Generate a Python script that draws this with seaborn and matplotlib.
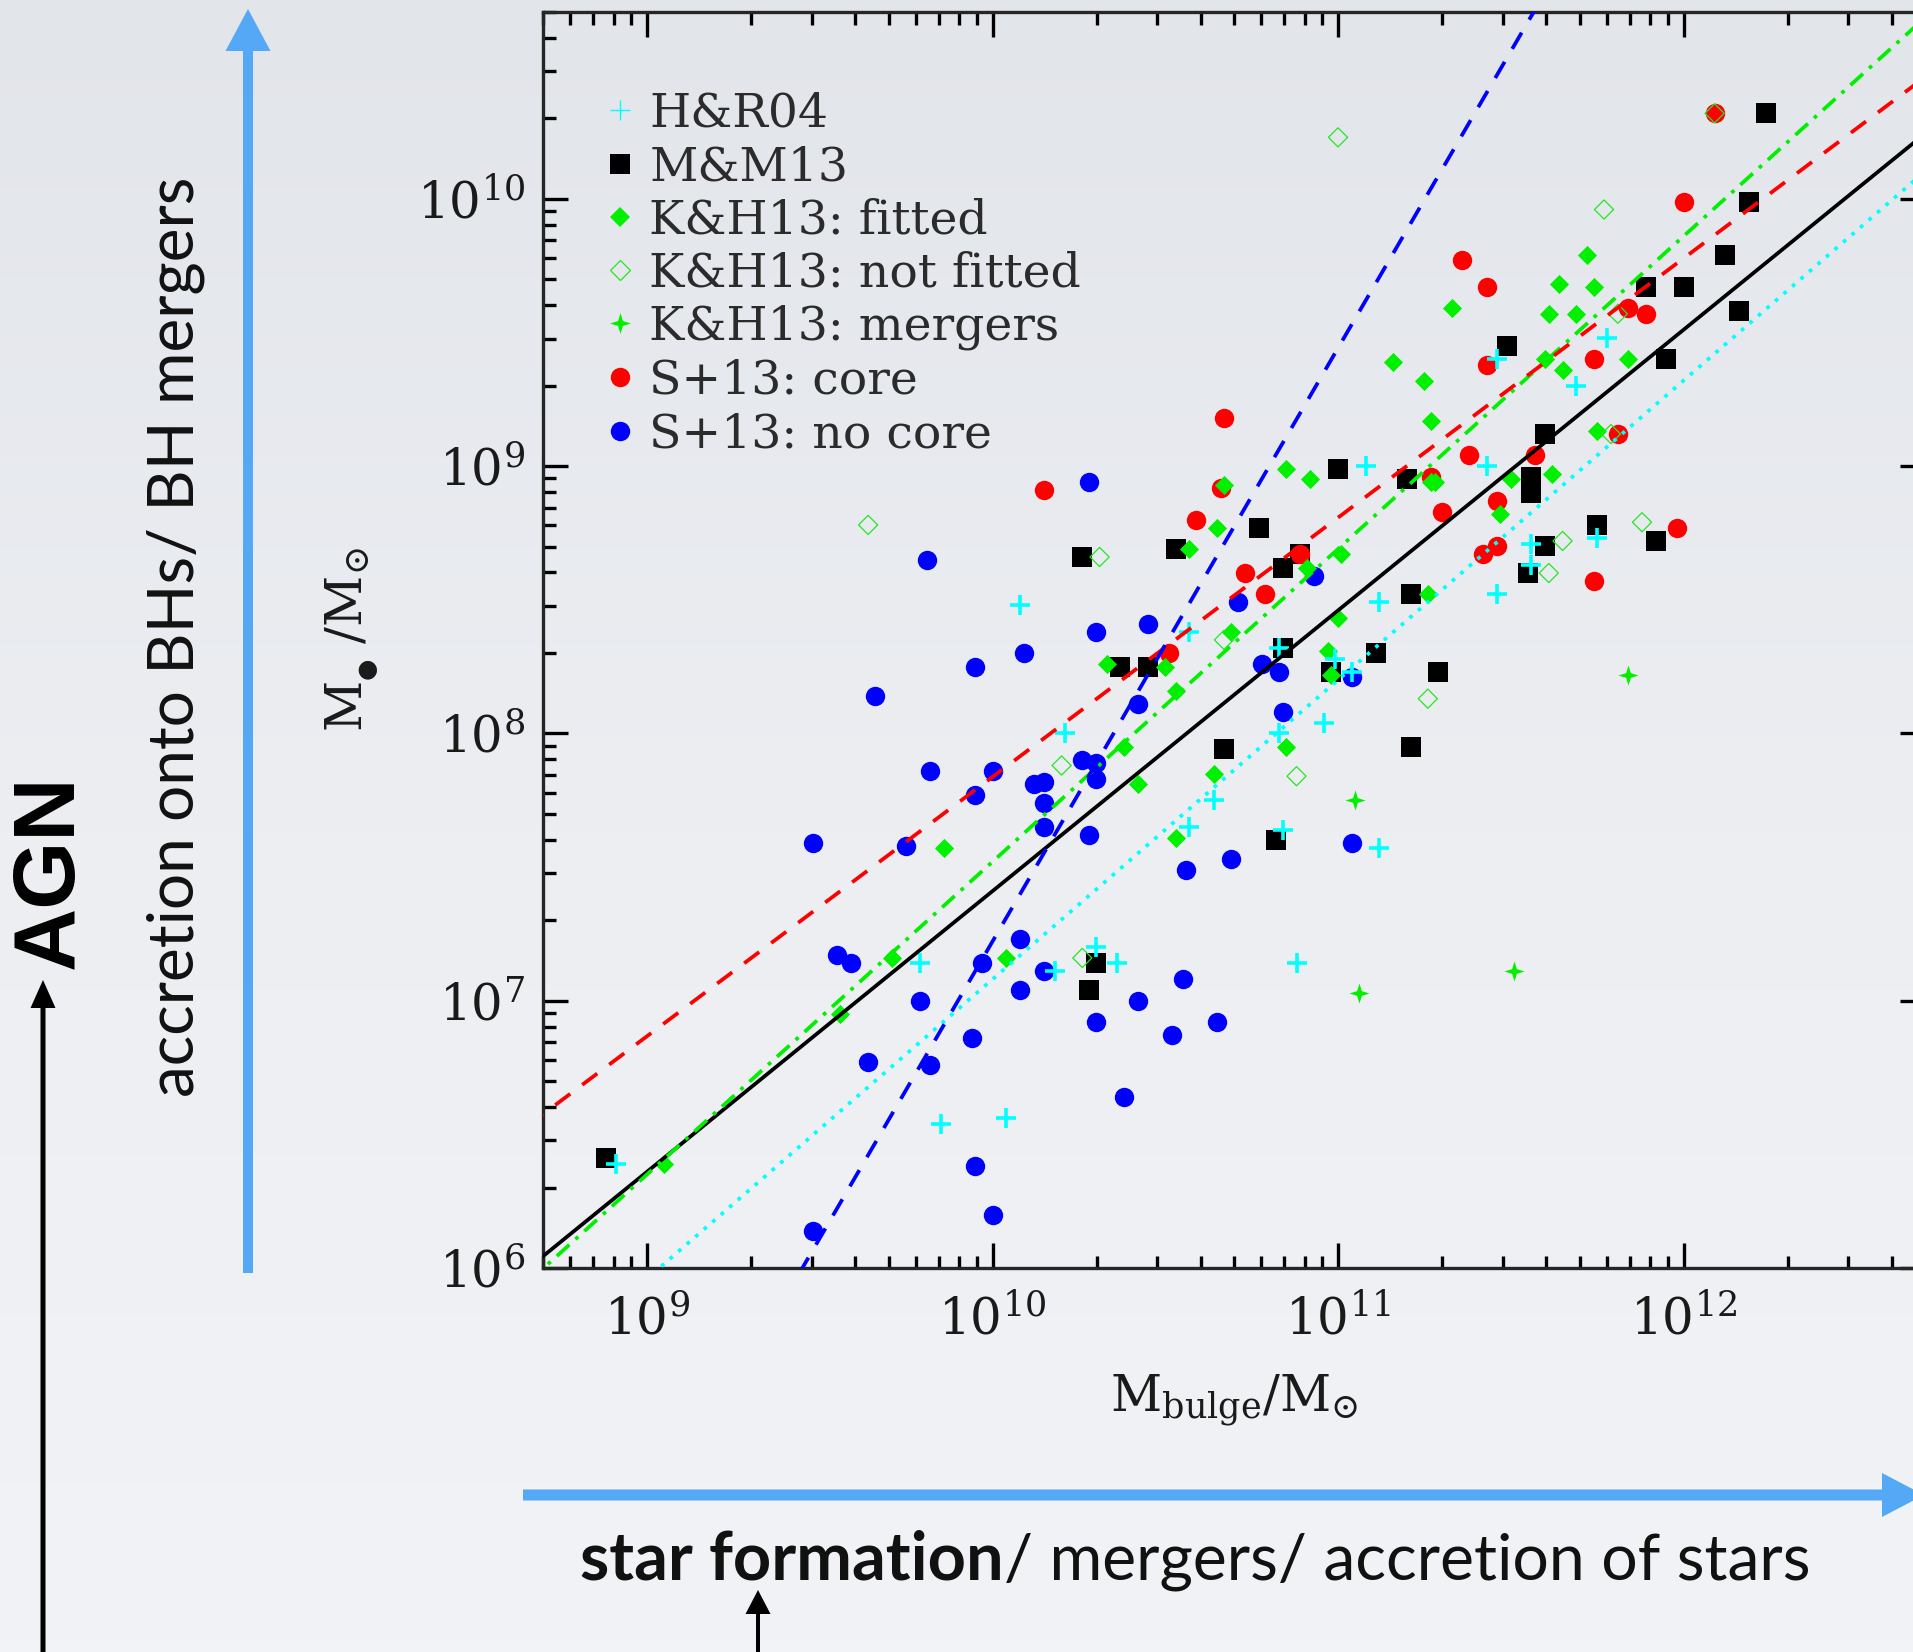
import numpy as np
import pandas as pd
import matplotlib
matplotlib.use("Agg")
import matplotlib.pyplot as plt
import seaborn as sns
from matplotlib.lines import Line2D
from matplotlib.patches import FancyArrow
from matplotlib.path import Path
from matplotlib.colors import LinearSegmentedColormap
from matplotlib.ticker import LogLocator, NullFormatter

# ---------------------------------------------------------------------------
# Data: log10 of bulge mass and black-hole mass (solar masses)
# ---------------------------------------------------------------------------
hr04_log_mbulge = [8.91, 9.79, 9.85, 10.04, 10.08, 10.18, 10.21, 10.30, 10.36, 10.57,
                   10.57, 10.64, 10.83, 10.83, 10.84, 10.88, 10.96, 10.99, 11.04, 11.08,
                   11.12, 11.12, 11.43, 11.46, 11.46, 11.56, 11.56, 11.69, 11.75, 11.78]
hr04_log_mbh = [6.39, 7.14, 6.54, 6.56, 8.48, 7.11, 8.00, 7.20, 7.14, 8.38,
                7.65, 7.75, 8.32, 8.00, 7.64, 7.14, 8.04, 8.28, 8.23, 9.00,
                8.49, 7.57, 9.00, 9.40, 8.52, 8.71, 8.63, 9.30, 8.73, 9.48]

mm13_log_mbulge = [8.88, 10.26, 10.28, 10.30, 10.37, 10.45, 10.53, 10.67, 10.77, 10.82,
                   10.84, 10.89, 10.84, 10.98, 11.00, 11.11, 11.20, 11.21, 11.21, 11.29,
                   11.49, 11.55, 11.56, 11.56, 11.60, 11.60, 11.75, 11.89, 11.92, 11.95,
                   12.00, 12.12, 12.16, 12.19, 12.24]
mm13_log_mbh = [6.41, 8.66, 7.04, 7.14, 8.25, 8.25, 8.69, 7.94, 8.77, 7.60,
                8.62, 8.67, 8.32, 8.23, 8.99, 8.30, 8.95, 8.52, 7.95, 8.23,
                9.45, 8.60, 8.96, 8.90, 9.12, 8.70, 8.78, 9.67, 8.72, 9.40,
                9.67, 9.79, 9.58, 9.99, 10.32]

kh13_fit_log_mbulge = [9.05, 9.56, 9.71, 9.86, 10.04, 10.33, 10.38, 10.42, 10.50, 10.53,
                       10.53, 10.57, 10.64, 10.65, 10.67, 10.69, 10.85, 10.85, 10.91, 10.92,
                       10.97, 10.98, 11.00, 11.01, 11.16, 11.25, 11.26, 11.27, 11.28, 11.27,
                       11.33, 11.47, 11.50, 11.60, 11.61, 11.62, 11.64, 11.65, 11.69, 11.72,
                       11.74, 11.75, 11.84]
kh13_fit_log_mbh = [6.39, 6.95, 7.16, 7.57, 7.16, 8.26, 7.95, 7.81, 8.25, 8.16,
                    7.61, 8.69, 7.85, 8.77, 8.93, 8.38, 8.99, 7.95, 8.62, 8.95,
                    8.31, 8.22, 8.43, 8.67, 9.39, 9.32, 8.52, 8.94, 8.94, 9.17,
                    9.59, 8.82, 8.95, 9.40, 9.57, 8.97, 9.68, 9.36, 9.57, 9.79,
                    9.67, 9.13, 9.40]

kh13_nofit_log_mbulge = [9.64, 10.20, 10.26, 10.31, 10.67, 10.88, 11.00, 11.26, 11.61, 11.65,
                         11.77, 11.79, 11.81, 11.88, 12.09]
kh13_nofit_log_mbh = [8.78, 7.88, 7.16, 8.66, 8.35, 7.84, 10.23, 8.13, 8.60, 8.72,
                      9.96, 9.12, 9.57, 8.79, 10.32]

kh13_merger_log_mbulge = [11.05, 11.06, 11.51, 11.84]
kh13_merger_log_mbh = [7.75, 7.03, 7.11, 8.22]

s13_core_log_mbulge = [10.15, 10.51, 10.59, 10.66, 10.67, 10.73, 10.79, 10.89, 11.27, 11.30,
                       11.36, 11.38, 11.42, 11.43, 11.43, 11.46, 11.46, 11.57, 11.74, 11.74,
                       11.81, 11.84, 11.89, 11.98, 12.00, 12.09]
s13_core_log_mbh = [8.91, 8.30, 8.80, 8.92, 9.18, 8.60, 8.52, 8.67, 8.96, 8.83,
                    9.77, 9.04, 8.67, 9.67, 9.38, 8.87, 8.70, 9.04, 9.40, 8.57,
                    9.12, 9.59, 9.57, 8.77, 9.99, 10.32]

s13_sersic_log_mbulge = [9.48, 9.48, 9.55, 9.59, 9.64, 9.66, 9.75, 9.79, 9.81, 9.82,
                         9.82, 9.94, 9.95, 9.95, 9.95, 9.97, 10.00, 10.00, 10.08, 10.08,
                         10.09, 10.12, 10.15, 10.15, 10.15, 10.15, 10.26, 10.28, 10.28, 10.30,
                         10.30, 10.30, 10.30, 10.38, 10.42, 10.42, 10.45, 10.52, 10.55, 10.56,
                         10.65, 10.69, 10.71, 10.78, 10.83, 10.84, 10.93, 11.04, 11.04]
s13_sersic_log_mbh = [7.59, 6.14, 7.17, 7.14, 6.77, 8.14, 7.58, 7.00, 8.65, 7.86,
                      6.76, 6.86, 8.25, 6.38, 7.77, 7.14, 7.86, 6.20, 7.23, 7.04,
                      8.30, 7.81, 7.82, 7.74, 7.65, 7.11, 7.90, 8.94, 7.62, 8.38,
                      6.92, 7.89, 7.83, 6.64, 8.11, 7.00, 8.41, 6.87, 7.08, 7.49,
                      6.92, 7.53, 8.49, 8.26, 8.23, 8.08, 8.59, 8.21, 7.59]

# Scaling relations: log M_BH = norm + slope * (log M_bulge - pivot)
relation_names = ["H&R04", "M&M13", "K&H13", "S+13: core", "S+13: no core"]
relation_norm = [8.20, 8.46, 8.69, 9.27, 7.89]
relation_slope = [1.12, 1.05, 1.17, 0.97, 2.22]
relation_pivot = [11.0, 11.0, 11.0, np.log10(3e11), np.log10(2e10)]

legend_labels = ["H&R04", "M&M13", "K&H13: fitted", "K&H13: not fitted",
                 "K&H13: mergers", "S+13: core", "S+13: no core"]

# ---------------------------------------------------------------------------
# Style
# ---------------------------------------------------------------------------
sns.set_style("ticks")
plt.rcParams["font.family"] = ["DejaVu Serif"]
plt.rcParams["mathtext.fontset"] = "dejavuserif"

W, H = 1913, 1652
CYAN, BLACK, GREEN, RED, BLUE = "#00ffff", "#000000", "#00f000", "#ff0000", "#0000ff"
ARROW_BLUE = "#55a8f5"
LW = 2.7

star4 = Path.unit_regular_star(4, 0.33)

fig = plt.figure(figsize=(W / 100, H / 100), dpi=100)

# slide background and annotations, in pixel units
ax_bg = fig.add_axes([0, 0, 1, 1], zorder=0)
ax_bg.set_xlim(0, W)
ax_bg.set_ylim(H, 0)
ax_bg.axis("off")
grad = np.linspace(0, 1, 256)[:, None]
slide_cmap = LinearSegmentedColormap.from_list("slide", ["#e2e5ea", "#eceef2", "#f2f3f6"])
ax_bg.imshow(grad, extent=[0, W, H, 0], aspect="auto", cmap=slide_cmap, zorder=0)

# ---------------------------------------------------------------------------
# Main panel
# ---------------------------------------------------------------------------
ax = fig.add_axes([543 / W, 1 - 1268 / H, (1925 - 543) / W, (1268 - 12) / H], zorder=1)
ax.set_facecolor("none")
ax.set_xscale("log")
ax.set_yscale("log")


def frame(logx, logy):
    return pd.DataFrame({"mbulge": 10 ** np.asarray(logx), "mbh": 10 ** np.asarray(logy)})


sns.scatterplot(data=frame(mm13_log_mbulge, mm13_log_mbh), x="mbulge", y="mbh", ax=ax,
                marker="s", s=200, color=BLACK, linewidth=0, zorder=3)
sns.scatterplot(data=frame(s13_sersic_log_mbulge, s13_sersic_log_mbh), x="mbulge", y="mbh", ax=ax,
                marker="o", s=195, color=BLUE, linewidth=0, zorder=4)
sns.scatterplot(data=frame(s13_core_log_mbulge, s13_core_log_mbh), x="mbulge", y="mbh", ax=ax,
                marker="o", s=195, color=RED, linewidth=0, zorder=4)
sns.scatterplot(data=frame(kh13_fit_log_mbulge, kh13_fit_log_mbh), x="mbulge", y="mbh", ax=ax,
                marker="D", s=95, color=GREEN, linewidth=0, zorder=5)
sns.scatterplot(data=frame(kh13_nofit_log_mbulge, kh13_nofit_log_mbh), x="mbulge", y="mbh", ax=ax,
                marker="D", s=95, color=GREEN, facecolor="none", edgecolor="#22e822",
                linewidth=0.9, zorder=5)
sns.scatterplot(data=frame(kh13_merger_log_mbulge, kh13_merger_log_mbh), x="mbulge", y="mbh", ax=ax,
                marker=star4, s=210, color=GREEN, linewidth=0, zorder=5)
sns.scatterplot(data=frame(hr04_log_mbulge, hr04_log_mbh), x="mbulge", y="mbh", ax=ax,
                marker="+", s=200, color=CYAN, linewidth=2.6, zorder=6)

# scaling relations
line_colors = [CYAN, BLACK, GREEN, RED, BLUE]
line_styles = [(0, (1, 2)), "-", (0, (4.5, 2.2, 1, 2.2)), (0, (5.0, 4.0)), (0, (5.0, 4.0))]
log_span = np.array([8.5, 13.0])
for name, norm, slope, pivot, col, ls in zip(relation_names, relation_norm, relation_slope,
                                              relation_pivot, line_colors, line_styles):
    rel = pd.DataFrame({"mbulge": 10 ** log_span,
                        "mbh": 10 ** (norm + slope * (log_span - pivot))})
    sns.lineplot(data=rel, x="mbulge", y="mbh", ax=ax, color=col, linestyle=ls,
                 linewidth=LW, zorder=7, estimator=None, sort=False)

ax.set_xlim(5e8, 5e12)
ax.set_ylim(1e6, 5e10)

for axis in (ax.xaxis, ax.yaxis):
    axis.set_major_locator(LogLocator(base=10, numticks=20))
    axis.set_minor_locator(LogLocator(base=10, subs=np.arange(2, 10), numticks=40))
    axis.set_minor_formatter(NullFormatter())

ax.tick_params(which="both", direction="in", top=True, right=True, width=2.4, colors="black")
ax.tick_params(which="major", length=18, labelsize=36, labelcolor="#1a1a1a")
ax.tick_params(which="minor", length=9)
ax.tick_params(axis="x", which="major", pad=20)
ax.tick_params(axis="y", which="major", pad=13)
for sp in ax.spines.values():
    sp.set_linewidth(2.4)
    sp.set_visible(True)

ax.set_xlabel(r"$\mathrm{M}_{\mathrm{bulge}}/\mathrm{M}_{\odot}$", fontsize=36, color="#1a1a1a")
ax.set_ylabel(r"$\mathrm{M}_{{}_{●}}\;/\mathrm{M}_{\odot}$", fontsize=36, color="#1a1a1a")
ax.xaxis.set_label_coords(0.5, -0.083)
ax.yaxis.set_label_coords(-0.118, 0.5)

handles = [
    Line2D([], [], ls="none", marker="+", ms=14, mew=1.0, color=CYAN),
    Line2D([], [], ls="none", marker="s", ms=14, mew=0, color=BLACK),
    Line2D([], [], ls="none", marker="D", ms=10, mew=0, color=GREEN),
    Line2D([], [], ls="none", marker="D", ms=10, mew=0.9, mfc="none", mec="#22e822"),
    Line2D([], [], ls="none", marker=star4, ms=15, mew=0, color=GREEN),
    Line2D([], [], ls="none", marker="o", ms=14, mew=0, color=RED),
    Line2D([], [], ls="none", marker="o", ms=14, mew=0, color=BLUE),
]
ax.legend(handles, legend_labels, loc="upper left", bbox_to_anchor=(0.0427, 0.9367),
          frameon=False, fontsize=34, labelspacing=0.17, handlelength=0.75,
          handletextpad=0.25, borderpad=0, borderaxespad=0, labelcolor="#2b2b2b")

# ---------------------------------------------------------------------------
# Slide annotations
# ---------------------------------------------------------------------------
ax_bg.add_patch(FancyArrow(248, 1273, 0, 9 - 1273, width=10, head_width=45, head_length=42,
                           length_includes_head=True, color=ARROW_BLUE, lw=0))
ax_bg.add_patch(FancyArrow(523, 1495, 1924 - 523, 0, width=11, head_width=44, head_length=42,
                           length_includes_head=True, color=ARROW_BLUE, lw=0))
ax_bg.add_patch(FancyArrow(43, 1660, 0, 980 - 1660, width=5, head_width=25, head_length=28,
                           length_includes_head=True, color="black", lw=0))
ax_bg.add_patch(FancyArrow(758, 1660, 0, 1590 - 1660, width=4, head_width=25, head_length=24,
                           length_includes_head=True, color="black", lw=0))

ax_bg.text(50, 872, "AGN", rotation=90, ha="center", va="center", fontsize=63,
           fontweight="bold", family=["Liberation Sans", "DejaVu Sans"], color="black")
ax_bg.text(176, 637, "accretion onto BHs/ BH mergers", rotation=90, ha="center", va="center",
           fontsize=46, fontweight="normal", family=["Lato", "DejaVu Sans"], color="#111111")

t1 = ax_bg.text(580, 1579, "star formation", ha="left", va="baseline", fontsize=48,
                fontweight="bold", family=["Lato", "DejaVu Sans"], color="#111111")
ax_bg.annotate("/ mergers/ accretion of stars", xy=(1, 0), xycoords=t1, ha="left", va="bottom",
               fontsize=46.3, fontweight="normal", family=["Lato", "DejaVu Sans"], color="#111111")

fig.savefig("out.png", dpi=100)
